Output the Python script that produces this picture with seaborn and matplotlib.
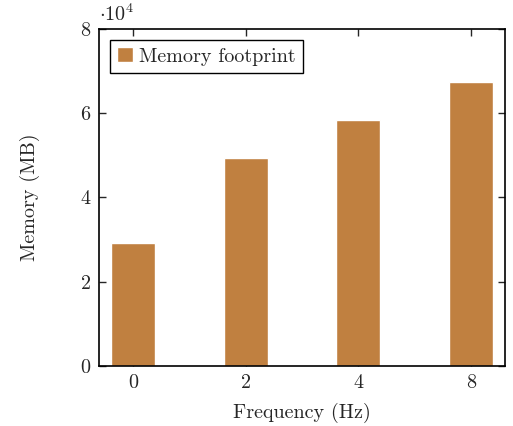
import seaborn as sns
import matplotlib.pyplot as plt
import pandas as pd

# data
frequency = ['0', '2', '4', '8']
memory = [29300, 49400, 58400, 67500]

sns.set_style('ticks')
plt.rcParams['font.family'] = ['cmr10', 'DejaVu Serif']
plt.rcParams['mathtext.fontset'] = 'cm'
plt.rcParams['axes.unicode_minus'] = False
plt.rcParams['axes.formatter.use_mathtext'] = True

fs = 14.5
df = pd.DataFrame({'freq': frequency, 'mem': memory})

fig = plt.figure(figsize=(5.13, 4.26), dpi=100)
ax = fig.add_axes([0.193, 0.141, 0.791, 0.791])

sns.barplot(data=df, x='freq', y='mem', color='#c08040', saturation=1,
            width=0.39, ax=ax, label='Memory footprint')

ax.set_xlim(-0.3, 3.3)
ax.set_ylim(0, 80000)
ax.set_yticks([0, 20000, 40000, 60000, 80000])
ax.set_yticklabels(['0', '2', '4', '6', '8'])
ax.text(0.0, 1.012, r'$\cdot 10^4$', transform=ax.transAxes, fontsize=fs,
        ha='left', va='bottom')

ax.tick_params(direction='in', top=True, right=True, length=5, width=1,
               labelsize=fs, pad=6)
for s in ax.spines.values():
    s.set_visible(True)
    s.set_linewidth(1.2)
    s.set_color('black')

ax.set_xlabel('Frequency (Hz)', fontsize=fs, labelpad=8)
ax.set_ylabel('Memory (MB)', fontsize=fs, labelpad=29)

leg = ax.legend(loc='upper left', fontsize=fs, fancybox=False, framealpha=1,
                edgecolor='black', handlelength=0.8, handleheight=0.8,
                handletextpad=0.3, borderpad=0.35, borderaxespad=0.55)
leg.get_frame().set_linewidth(1.0)

fig.savefig('out.png', dpi=100)
